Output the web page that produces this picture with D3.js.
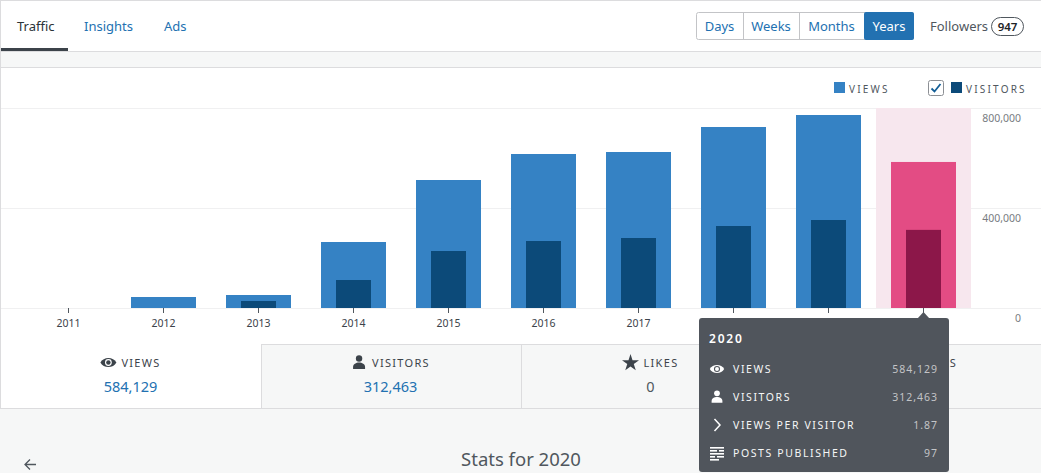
<!DOCTYPE html>
<html>
<head>
<meta charset="utf-8">
<script src="https://cdn.jsdelivr.net/npm/d3@7"></script>
<style>
body { margin: 0; background: #f6f7f7; }
svg { display: block; }
text { font-family: "Noto Sans", "Open Sans", sans-serif; }
</style>
</head>
<body>
<svg id="chart" width="1041" height="473"></svg>
<script>
const years = ['2011', '2012', '2013', '2014', '2015', '2016', '2017', '2018', '2019', '2020']
const views = [0, 44000, 52000, 264000, 512000, 616000, 624000, 724000, 772000, 584129]
const visitors = [0, 0, 28000, 112000, 228000, 268000, 280000, 328000, 352000, 312463]
const yTicks = [0, 400000, 800000]
const navTabs = ['Traffic', 'Insights', 'Ads']
const periods = ['Days', 'Weeks', 'Months', 'Years']
const followers = 947
const selectedYear = '2020'
const postsPublished = 97
const summaryLabels = ['Views', 'Visitors', 'Likes', 'Comments']
const likes = 0
const comments = 0

const W = 1041
const blue = '#2271b1'
const grey = '#50575e'

const svg = d3.select('#chart')
const sel = years.indexOf(selectedYear)

// page frame
svg.append('rect').attr('width', W).attr('height', 473).attr('fill', '#f6f7f7')
svg.append('rect').attr('width', W).attr('height', 52).attr('fill', '#fff')
svg.append('rect').attr('y', 68).attr('width', W).attr('height', 340).attr('fill', '#fff')
const hline = (y, x1, x2) => svg.append('line').attr('x1', x1).attr('x2', x2)
	.attr('y1', y).attr('y2', y).attr('stroke', '#dcdcde')
const vline = (x, y1, y2) => svg.append('line').attr('x1', x).attr('x2', x)
	.attr('y1', y1).attr('y2', y2).attr('stroke', '#dcdcde')
hline(0.5, 0, W)
hline(51.5, 0, W)
hline(67.5, 0, W)
vline(0.5, 0, 409)

// nav tabs
const tabX = [17, 84, 164]
svg.selectAll('.navtab')
	.data(navTabs)
	.enter()
	.append('text')
	.attr('x', (d, i) => tabX[i])
	.attr('y', 31)
	.style('font-size', '13px')
	.attr('fill', (d, i) => i == 0 ? '#2c3338' : blue)
	.text(d => d)
svg.append('rect').attr('x', 1).attr('y', 48).attr('width', 67).attr('height', 3).attr('fill', '#3c434a')

// period buttons
const btnEdges = [696, 743, 799, 864, 914]
svg.append('rect').attr('x', 696.5).attr('y', 12.5).attr('width', 217).attr('height', 27)
	.attr('rx', 2).attr('fill', '#fff').attr('stroke', '#c3c4c7')
periods.forEach((p, i) => {
	const x0 = btnEdges[i], x1 = btnEdges[i + 1]
	const on = p == 'Years'
	if (on) svg.append('rect').attr('x', x0).attr('y', 12).attr('width', x1 - x0).attr('height', 28)
		.attr('rx', 2).attr('fill', blue)
	else if (i > 0) vline(x0 + 0.5, 13, 39).attr('stroke', '#c3c4c7')
	svg.append('text').attr('x', (x0 + x1) / 2).attr('y', 31)
		.attr('text-anchor', 'middle').style('font-size', '13px')
		.attr('fill', on ? '#fff' : blue).text(p)
})
svg.append('text').attr('x', 930).attr('y', 31).style('font-size', '13px').attr('fill', grey).text('Followers')
svg.append('rect').attr('x', 991.5).attr('y', 17.5).attr('width', 32).attr('height', 18).attr('rx', 9)
	.attr('fill', '#fff').attr('stroke', '#50575e')
svg.append('text').attr('x', 1007.5).attr('y', 30.5).attr('text-anchor', 'middle')
	.style('font-size', '11.5px').style('font-weight', 600).attr('fill', '#1d2327').text(followers)

// scales
const xScale = d3.scaleBand()
	.domain(years)
	.range([21, 971])
	.paddingInner(30 / 95)
	.paddingOuter(15 / 95)

const yScale = d3.scaleLinear()
	.domain([0, 800000])
	.range([308, 108])

const fmt = d3.format(',')

// grid + y labels
svg.selectAll('.grid')
	.data(yTicks)
	.enter()
	.append('line')
	.attr('x1', 1).attr('x2', W)
	.attr('y1', d => yScale(d) + 0.5).attr('y2', d => yScale(d) + 0.5)
	.attr('stroke', '#f0f0f1')

// selected year band
svg.append('rect')
	.attr('x', xScale(selectedYear) - xScale.step() * xScale.paddingInner() / 2)
	.attr('y', yScale(800000))
	.attr('width', xScale.step())
	.attr('height', yScale(0) - yScale(800000))
	.attr('fill', '#f7e7ee')

svg.selectAll('.ylab')
	.data(yTicks)
	.enter()
	.append('text')
	.attr('x', 1021)
	.attr('y', d => yScale(d) + 14)
	.attr('text-anchor', 'end')
	.style('font-size', '10.5px')
	.attr('fill', '#787c82')
	.text(d => fmt(d))

// bars
const inner = xScale.bandwidth() * 35 / 65
svg.selectAll('.views')
	.data(years)
	.enter()
	.append('rect')
	.attr('x', d => xScale(d))
	.attr('y', (d, i) => yScale(views[i]))
	.attr('width', xScale.bandwidth())
	.attr('height', (d, i) => yScale(0) - yScale(views[i]))
	.style('fill', d => d == selectedYear ? '#e34c84' : '#3582c4')

svg.selectAll('.visitors')
	.data(years)
	.enter()
	.append('rect')
	.attr('x', d => xScale(d) + (xScale.bandwidth() - inner) / 2)
	.attr('y', (d, i) => yScale(visitors[i]))
	.attr('width', inner)
	.attr('height', (d, i) => yScale(0) - yScale(visitors[i]))
	.style('fill', d => d == selectedYear ? '#8c1749' : '#0c4a79')

// x axis
const xAxis = svg.append('g')
	.attr('transform', 'translate(0,308)')
	.call(d3.axisBottom(xScale).tickSize(5).tickPadding(6.5))
xAxis.select('.domain').remove()
xAxis.selectAll('line').attr('stroke', grey)
xAxis.selectAll('text').style('font-size', '10.5px').attr('fill', '#3c434a')
	.style('font-family', '"Noto Sans", sans-serif')

// legend
svg.append('rect').attr('x', 834).attr('y', 82).attr('width', 11).attr('height', 11).attr('fill', '#3582c4')
svg.append('text').attr('x', 849).attr('y', 93).style('font-size', '10px').style('letter-spacing', '2.2px')
	.attr('fill', grey).text('VIEWS')
svg.append('rect').attr('x', 928.5).attr('y', 80.5).attr('width', 15).attr('height', 15).attr('rx', 2)
	.attr('fill', '#fff').attr('stroke', '#8c8f94')
svg.append('path').attr('d', 'M931.5,88.5 L934.5,91.5 L940.5,84').attr('fill', 'none')
	.attr('stroke', '#135e96').attr('stroke-width', 1.8)
svg.append('rect').attr('x', 951).attr('y', 82).attr('width', 11).attr('height', 11).attr('fill', '#0c4a79')
svg.append('text').attr('x', 966).attr('y', 93).style('font-size', '10px').style('letter-spacing', '2.2px')
	.attr('fill', grey).text('VISITORS')

// icons
function eye(g, cx, cy, c, bg, s) {
	const e = g.append('g').attr('transform', `translate(${cx},${cy}) scale(${s})`)
	e.append('path').attr('d', 'M-8,0 C-5,-6 5,-6 8,0 C5,6 -5,6 -8,0Z').attr('fill', c)
	e.append('circle').attr('r', 3.4).attr('fill', bg)
	e.append('circle').attr('r', 2.2).attr('fill', c)
}
function person(g, cx, cy, c, s) {
	const e = g.append('g').attr('transform', `translate(${cx},${cy}) scale(${s})`)
	e.append('circle').attr('cy', -3.5).attr('r', 3.2).attr('fill', c)
	e.append('path').attr('d', 'M-6,7 V5 C-6,2 -3,0.5 0,0.5 C3,0.5 6,2 6,5 V7Z').attr('fill', c)
}
function star(g, cx, cy, c) {
	g.append('path').attr('transform', `translate(${cx},${cy + 1})`)
		.attr('d', d3.symbol(d3.symbolStar, 90)()).attr('fill', c)
}
function bubble(g, cx, cy, c) {
	g.append('path').attr('transform', `translate(${cx},${cy})`)
		.attr('d', 'M-7,-6 H7 V4 H-1 L-5,8 V4 H-7Z').attr('fill', c)
}

// summary tabs
const tabW = 260
svg.append('rect').attr('x', 261).attr('y', 344).attr('width', W - 261).attr('height', 64).attr('fill', '#f6f7f7')
hline(344.5, 261, W)
hline(408.5, 0, W)
vline(261.5, 344, 408)
vline(521.5, 344, 408)
vline(781.5, 344, 408)
const summaryValues = [views[sel], visitors[sel], likes, comments]
summaryLabels.forEach((lab, i) => {
	const cx = i * tabW + 130.5
	const g = svg.append('g')
	const t = g.append('text').attr('y', 367).style('font-size', '11px').style('letter-spacing', '1.3px')
		.attr('fill', '#3c434a').text(lab.toUpperCase())
	const tw = t.node().getComputedTextLength()
	const x0 = cx - (tw + 21) / 2
	t.attr('x', x0 + 21)
	const bg = i == 0 ? '#fff' : '#f6f7f7'
	if (i == 0) eye(g, x0 + 8, 362.5, '#3c434a', bg, 1)
	if (i == 1) person(g, x0 + 8, 362, '#3c434a', 1)
	if (i == 2) star(g, x0 + 8, 362, '#3c434a')
	if (i == 3) bubble(g, x0 + 8, 362, '#3c434a')
	// the comments value sits fully under the tooltip, so it is not drawn
	if (i < 3) g.append('text').attr('x', cx).attr('y', 392).attr('text-anchor', 'middle')
		.style('font-size', '14.5px').attr('fill', summaryValues[i] > 0 ? blue : grey)
		.text(fmt(summaryValues[i]))
})

// below the card
svg.append('text').attr('x', 521).attr('y', 466).attr('text-anchor', 'middle')
	.style('font-size', '18.5px').attr('fill', grey).text('Stats for ' + selectedYear)
svg.append('path').attr('d', 'M36,464.5 H25 M30,459.5 L25,464.5 L30,469.5').attr('fill', 'none')
	.attr('stroke', grey).attr('stroke-width', 1.3)

// tooltip
const tipX = xScale(selectedYear) + xScale.bandwidth() / 2
const tip = svg.append('g')
tip.append('rect').attr('x', 699).attr('y', 318).attr('width', 250).attr('height', 154).attr('rx', 3).attr('fill', '#50555c')
tip.append('path').attr('d', `M${tipX - 6},318.5 L${tipX},312 L${tipX + 6},318.5Z`).attr('fill', '#50555c')
tip.append('text').attr('x', 709).attr('y', 343).style('font-size', '12px').style('font-weight', 600)
	.style('letter-spacing', '1.8px').attr('fill', '#fff').text(selectedYear)
const tipRows = [
	['VIEWS', fmt(views[sel])],
	['VISITORS', fmt(visitors[sel])],
	['VIEWS PER VISITOR', d3.format('.2f')(views[sel] / visitors[sel])],
	['POSTS PUBLISHED', postsPublished]
]
tipRows.forEach((r, i) => {
	const y = 373 + i * 28
	tip.append('text').attr('x', 733).attr('y', y).style('font-size', '10.5px').style('letter-spacing', '1.6px')
		.attr('fill', '#f6f7f7').text(r[0])
	tip.append('text').attr('x', 938).attr('y', y).attr('text-anchor', 'end').style('font-size', '10.5px')
		.style('letter-spacing', '1px').attr('fill', '#c3c4c7').text(r[1])
	const cy = y - 4
	if (i == 0) eye(tip, 717, cy, '#fff', '#50555c', 0.9)
	if (i == 1) person(tip, 717, cy - 0.5, '#fff', 0.9)
	if (i == 2) tip.append('path').attr('d', `M714.5,${cy - 6} L720,${cy} L714.5,${cy + 6}`)
		.attr('fill', 'none').attr('stroke', '#fff').attr('stroke-width', 1.5)
	if (i == 3) {
		const p = tip.append('g').attr('fill', '#fff')
		p.append('rect').attr('x', 710).attr('y', cy - 6).attr('width', 14).attr('height', 1.6)
		p.append('rect').attr('x', 710).attr('y', cy - 3).attr('width', 7).attr('height', 1.6)
		p.append('rect').attr('x', 719).attr('y', cy - 3).attr('width', 5).attr('height', 1.6)
		p.append('rect').attr('x', 710).attr('y', cy).attr('width', 14).attr('height', 1.6)
		p.append('rect').attr('x', 710).attr('y', cy + 3).attr('width', 5).attr('height', 1.6)
		p.append('rect').attr('x', 717).attr('y', cy + 3).attr('width', 7).attr('height', 1.6)
		p.append('rect').attr('x', 710).attr('y', cy + 6).attr('width', 9).attr('height', 1.6)
	}
})
</script>
</body>
</html>
